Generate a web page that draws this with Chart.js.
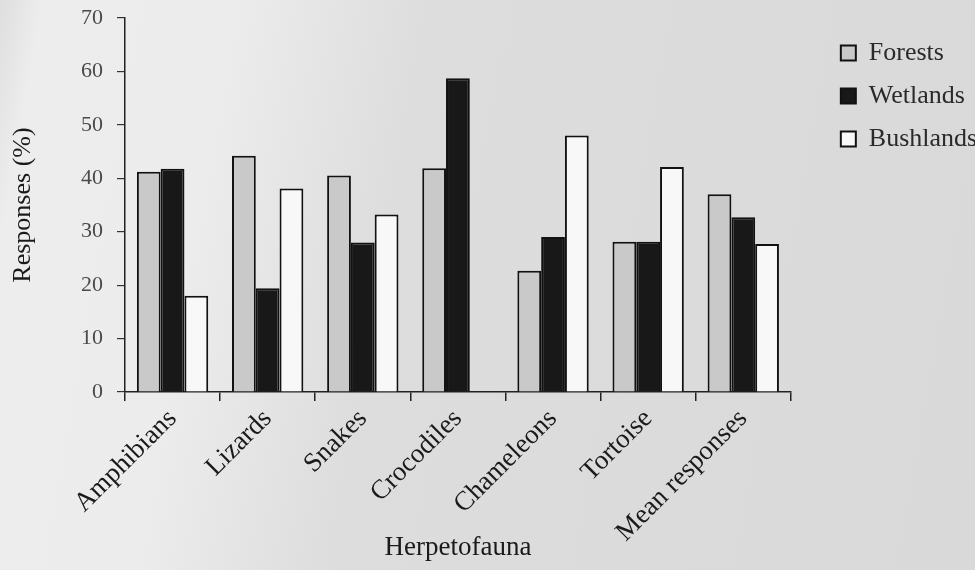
<!DOCTYPE html>
<html>
<head>
<meta charset="utf-8">
<script src="https://cdn.jsdelivr.net/npm/chart.js@4"></script>
<style>
  html, body { margin: 0; padding: 0; }
  body {
    width: 975px; height: 570px; overflow: hidden;
    background: linear-gradient(100deg, #dedede 0%, #ededed 4%, #ececec 22%, #dddddd 40%, #d9d9d9 100%);
  }
  #wrap { position: relative; width: 975px; height: 570px; }
</style>
</head>
<body>
<div id="wrap"><canvas id="grafico"></canvas></div>
<script>
const categorias = ["Amphibians", "Lizards", "Snakes", "Crocodiles", "Chameleons", "Tortoise", "Mean responses"];
const forests   = [41.2, 44.2, 40.5, 41.9, 22.7, 28.1, 37];
const wetlands  = [41.8, 19.4, 28, 58.7, 29, 28.1, 32.7];
const bushlands = [18, 38.1, 33.2, 0, 48, 42.1, 27.7];
const ticksY = [0, 10, 20, 30, 40, 50, 60, 70];

const serif = "'Liberation Serif', 'Times New Roman', serif";

const ctx = document.getElementById("grafico").getContext("2d");

new Chart(ctx, {
    type: "bar",
    data: {
        labels: categorias,
        datasets: [
            {
                label: "Forests",
                data: forests,
                backgroundColor: "#c9c9c9",
                borderColor: "#111",
                borderWidth: 2,
                borderSkipped: "bottom"
            },
            {
                label: "Wetlands",
                data: wetlands,
                backgroundColor: "#181818",
                borderColor: "#111",
                borderWidth: 2,
                borderSkipped: "bottom"
            },
            {
                label: "Bushlands",
                data: bushlands,
                backgroundColor: "#f8f8f8",
                borderColor: "#111",
                borderWidth: 2,
                borderSkipped: "bottom"
            }
        ]
    },
    options: {
        responsive: true,
        maintainAspectRatio: false,
        animation: false,
        layout: { padding: { top: 0, left: 8, right: -12, bottom: 4 } },
        datasets: { bar: { barPercentage: 1, categoryPercentage: 0.75 } },
        plugins: {
            tooltip: { enabled: false },
            legend: {
                position: "right",
                align: "start",
                title: { display: true, text: " ", font: { size: 10 }, padding: { top: 0, bottom: 11 } },
                labels: {
                    boxWidth: 15,
                    boxHeight: 15,
                    padding: 17,
                    color: "#2a2a2a",
                    font: { family: serif, size: 26 }
                }
            }
        },
        scales: {
            x: {
                afterFit: (scale) => { scale.height = 174; },
                grid: { display: true, drawOnChartArea: false, tickLength: 9, color: "#222", lineWidth: 1.5 },
                border: { color: "#222", width: 1.5 },
                ticks: {
                    minRotation: 45, maxRotation: 45,
                    color: "#1a1a1a",
                    padding: 2,
                    font: { family: serif, size: 27 }
                },
                title: {
                    display: true,
                    text: "Herpetofauna",
                    color: "#1a1a1a",
                    padding: { top: 0, bottom: 2 },
                    font: { family: serif, size: 27 }
                }
            },
            y: {
                min: 0, max: 70,
                afterBuildTicks: (scale) => { scale.ticks = ticksY.map(v => ({ value: v })); },
                afterFit: (scale) => {
                    scale.width = 117;
                    scale.paddingTop = 18;
                },
                grid: { display: true, drawOnChartArea: false, tickLength: 8, color: "#333", lineWidth: 1.2 },
                border: { color: "#222", width: 1.5 },
                ticks: {
                    color: "#4a4a4a",
                    padding: 14,
                    font: { family: serif, size: 22 }
                },
                title: {
                    display: true,
                    text: "Responses (%)",
                    color: "#1a1a1a",
                    padding: { top: 0, bottom: 2 },
                    font: { family: serif, size: 26 }
                }
            },
            gap: {
                position: "right",
                display: true,
                afterFit: (scale) => { scale.width = 33; },
                grid: { display: false },
                border: { display: false },
                ticks: { display: false }
            }
        }
    }
});
</script>
</body>
</html>
